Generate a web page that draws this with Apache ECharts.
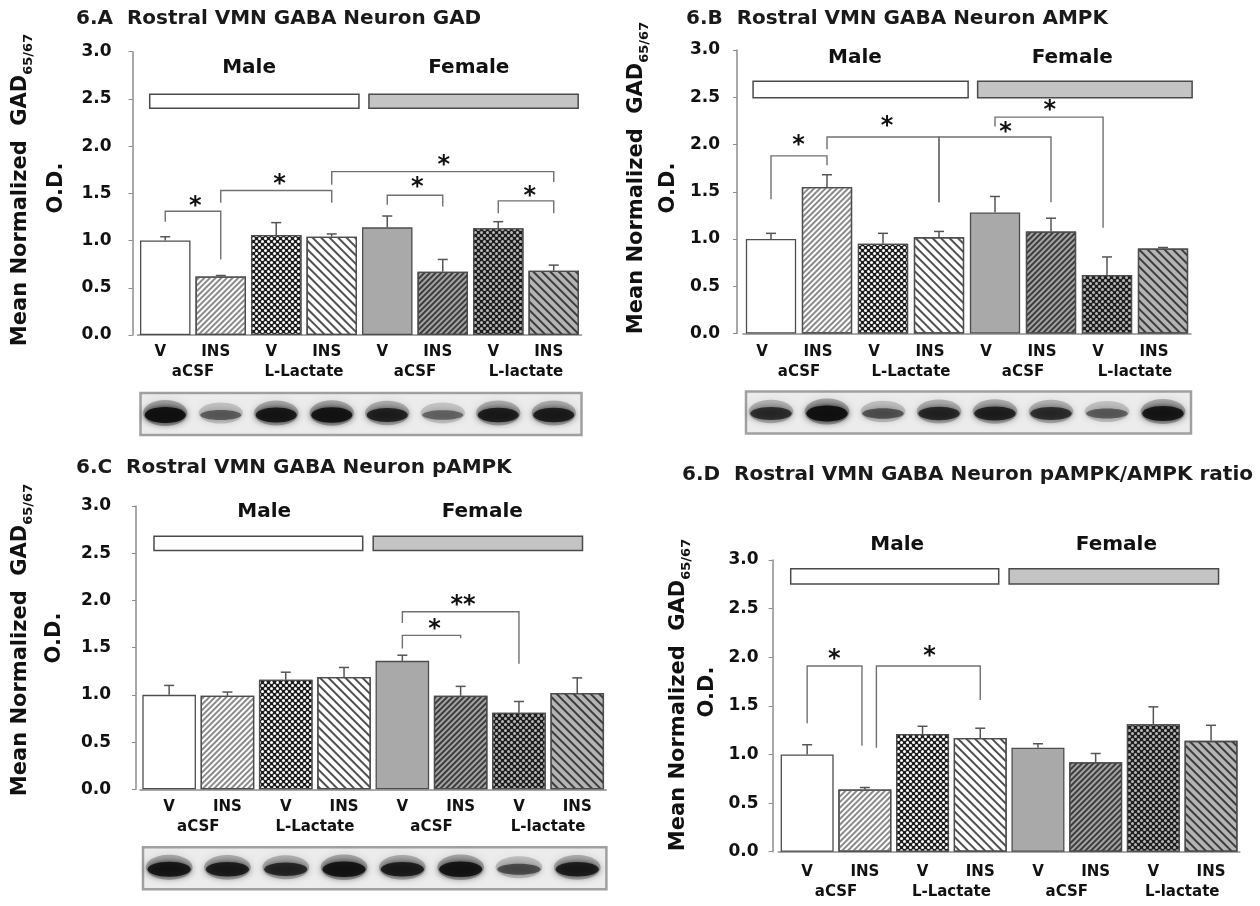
<!DOCTYPE html>
<html>
<head>
<meta charset="utf-8">
<script src="https://cdn.jsdelivr.net/npm/echarts@6/dist/echarts.min.js"></script>
<style>
html, body { margin: 0; padding: 0; background: #fff; }
#main { width: 1260px; height: 906px; }
</style>
</head>
<body>
<div id="main"></div>
<script>
const F = 'DejaVu Sans';

const treatments = ['V', 'INS', 'V', 'INS', 'V', 'INS', 'V', 'INS'];
const infusions = ['aCSF', 'L-Lactate', 'aCSF', 'L-lactate'];
const sexes = ['Male', 'Female'];

// 6.A GAD65/67
const gadMean = [1.00, 0.62, 1.06, 1.04, 1.14, 0.67, 1.13, 0.68];
const gadErr  = [0.04, 0.01, 0.13, 0.03, 0.12, 0.13, 0.07, 0.06];
// 6.B AMPK
const ampkMean = [1.00, 1.55, 0.95, 1.02, 1.28, 1.08, 0.62, 0.90];
const ampkErr  = [0.06, 0.13, 0.11, 0.06, 0.17, 0.14, 0.19, 0.01];
// 6.C pAMPK
const pampkMean = [1.00, 0.99, 1.16, 1.19, 1.36, 0.99, 0.81, 1.02];
const pampkErr  = [0.10, 0.04, 0.08, 0.10, 0.06, 0.10, 0.12, 0.16];
// 6.D pAMPK/AMPK
const ratioMean = [1.00, 0.64, 1.21, 1.17, 1.07, 0.92, 1.31, 1.14];
const ratioErr  = [0.10, 0.02, 0.08, 0.10, 0.04, 0.09, 0.18, 0.16];

// brackets: [fromBar, fromLegEnd, toBar, toLegEnd, top, starBar, starY]
const gadSig = [
  [0, 1.20, 1, 0.80, 1.31, 0.54, 1.41],
  [1, 1.40, 3, 1.40, 1.53, 2.06, 1.64],
  [3, 1.59, 7, 1.62, 1.73, 5.02, 1.84],
  [4, 1.38, 5, 1.36, 1.48, 4.54, 1.61],
  [6, 1.29, 7, 1.29, 1.42, 6.57, 1.52]
];
const gadStars = ['*', '*', '*', '*', '*'];
const ampkSig = [
  [0, 1.42, 1, 1.78, 1.88, 0.49, 2.04],
  [1, 1.95, 3, 1.39, 2.08, 2.07, 2.24],
  [3, 1.39, 5, 1.39, 2.08, 4.19, 2.18],
  [4, 2.19, 5.93, 1.12, 2.29, 4.98, 2.41]
];
const ampkStars = ['*', '*', '*', '*'];
const pampkSig = [
  [4, 1.49, 5, 1.60, 1.63, 4.55, 1.74],
  [4, 1.76, 6, 1.33, 1.88, 5.04, 2.00]
];
const pampkStars = ['*', '**'];
const ratioSig = [
  [0, 1.32, 0.95, 1.09, 1.91, 0.47, 2.03],
  [1.2, 1.07, 3, 1.56, 1.91, 2.12, 2.06]
];
const ratioStars = ['*', '*'];

// western blot band strength per lane
const gadBlot   = [1.00, 0.40, 0.90, 0.95, 0.80, 0.35, 0.85, 0.85];
const ampkBlot  = [0.70, 1.00, 0.45, 0.75, 0.80, 0.70, 0.40, 0.90];
const pampkBlot = [0.90, 0.85, 0.75, 0.95, 0.85, 0.95, 0.50, 0.85];

const sexFill = ['#ffffff', '#c4c4c4'];

const hatch = (color, gap, w, rot) => ({
  symbol: 'rect', symbolSize: 1, dashArrayX: [1, 0], dashArrayY: [w, gap], rotation: rot, color: color
});
const checker = color => ({
  symbol: 'circle', symbolSize: 1, dashArrayX: [[2.2, 2.2], [0, 2.2, 2.2, 0]], dashArrayY: [2.2, 0], rotation: 0, color: color
});
const barStyles = [
  { color: '#ffffff' },
  { color: '#ffffff', decal: hatch('#8a8a8a', 1.6, 1.1, -Math.PI / 4) },
  { color: '#1e1e1e', decal: checker('#ffffff') },
  { color: '#ffffff', decal: hatch('#505050', 3.8, 1.3, Math.PI / 4) },
  { color: '#a9a9a9' },
  { color: '#a4a4a4', decal: hatch('#3c3c3c', 1.7, 1.2, -Math.PI / 4) },
  { color: '#1e1e1e', decal: checker('#b8b8b8') },
  { color: '#b4b4b4', decal: hatch('#3c3c3c', 3.6, 1.4, Math.PI / 4) }
];

const panels = [
  { title: '6.A  Rostral VMN GABA Neuron GAD', mean: gadMean, err: gadErr, sig: gadSig, stars: gadStars, blot: gadBlot,
    grid: { left: 137.5, top: 51.7, width: 444, height: 283.3 }, axisOff: 5, labelMargin: 21, barW: 50.5,
    titlePos: [76, 19], ylab: [21, 190], od: [56.6, 188], xm: [10, 30], xpad: 10,
    box: { span: [[-0.28, 3.49], [3.67, 7.44]], lo: 2.40, hi: 2.55, lab: [1.51, 5.47], labY: 2.83 } },
  { title: '6.B  Rostral VMN GABA Neuron AMPK', mean: ampkMean, err: ampkErr, sig: ampkSig, stars: ampkStars, blot: ampkBlot,
    grid: { left: 743, top: 50, width: 448, height: 283.5 }, axisOff: 6, labelMargin: 17, barW: 50.3,
    titlePos: [686, 19], ylab: [637, 178], od: [669, 188], xm: [11.5, 31.5], xpad: 18,
    box: { span: [[-0.32, 3.52], [3.69, 7.52]], lo: 2.495, hi: 2.67, lab: [1.5, 5.38], labY: 2.92 } },
  { title: '6.C  Rostral VMN GABA Neuron pAMPK', mean: pampkMean, err: pampkErr, sig: pampkSig, stars: pampkStars, blot: pampkBlot,
    grid: { left: 140, top: 506, width: 466.4, height: 283.3 }, axisOff: 4, labelMargin: 25, barW: 53.6,
    titlePos: [76, 468], ylab: [21, 640], od: [55, 638], xm: [10.7, 30.7], xpad: 0,
    box: { span: [[-0.26, 3.32], [3.5, 7.09]], lo: 2.53, hi: 2.68, lab: [1.63, 5.37], labY: 2.94 } },
  { title: '6.D  Rostral VMN GABA Neuron pAMPK/AMPK ratio', mean: ratioMean, err: ratioErr, sig: ratioSig, stars: ratioStars, blot: null,
    grid: { left: 778.3, top: 560, width: 461.6, height: 291.7 }, axisOff: 5.7, labelMargin: 14, barW: 53,
    titlePos: [682, 475], ylab: [679, 695], od: [708, 692], xm: [13.3, 33.3], xpad: 0,
    box: { span: [[-0.285, 3.32], [3.5, 7.13]], lo: 2.754, hi: 2.91, lab: [1.56, 5.36], labY: 3.155 } }
];

const boldText = (size, extra) => Object.assign({ fontSize: size, fontWeight: 'bold', fontFamily: F, color: '#111' }, extra || {});

function errRender(params, api) {
  const x = api.value(0);
  const lo = api.coord([x, api.value(1)]);
  const hi = api.coord([x, api.value(2)]);
  const st = { stroke: '#555', lineWidth: 1.5 };
  return { type: 'group', children: [
    { type: 'line', shape: { x1: lo[0], y1: lo[1], x2: hi[0], y2: hi[1] }, style: st },
    { type: 'line', shape: { x1: hi[0] - 5, y1: hi[1], x2: hi[0] + 5, y2: hi[1] }, style: st }
  ] };
}

function sigRender(sig, stars) {
  return function (params, api) {
    const s = sig[params.dataIndex];
    const bw = api.size([1, 0])[0];
    const base = api.coord([0, 0]);
    const X = i => base[0] + i * bw;
    const Y = v => api.coord([0, v])[1];
    return { type: 'group', children: [
      { type: 'polyline',
        shape: { points: [[X(s[0]), Y(s[1])], [X(s[0]), Y(s[4])], [X(s[2]), Y(s[4])], [X(s[2]), Y(s[3])]] },
        style: { stroke: '#707070', lineWidth: 1.4, fill: null } },
      { type: 'text', x: X(s[5]), y: Y(s[6]) + 5,
        style: { text: stars[params.dataIndex], fontSize: 24, fontWeight: 'bold', fontFamily: F, fill: '#111', align: 'center', verticalAlign: 'middle' } }
    ] };
  };
}

function boxRender(p) {
  return function (params, api) {
    const k = params.dataIndex;
    const bw = api.size([1, 0])[0];
    const base = api.coord([0, 0])[0];
    const span = p.box.span[k];
    const y1 = api.coord([0, p.box.hi])[1];
    const y2 = api.coord([0, p.box.lo])[1];
    const xl = base + span[0] * bw;
    const xr = base + span[1] * bw;
    return { type: 'group', children: [
      { type: 'rect', shape: { x: xl, y: y1, width: xr - xl, height: y2 - y1 },
        style: { fill: sexFill[k], stroke: '#4a4a4a', lineWidth: 1.5 } },
      { type: 'text', x: base + p.box.lab[k] * bw, y: api.coord([0, p.box.labY])[1],
        style: { text: sexes[k], fontSize: 20, fontWeight: 'bold', fontFamily: F, fill: '#111', align: 'center', verticalAlign: 'middle' } }
    ] };
  };
}

function blotRender(params, api) {
  const cs = params.coordSys;
  const c = api.coord([api.value(0), 0]);
  const bw = api.size([1, 0])[0];
  const v = api.value(1);
  const top = c[1] + 58, bot = c[1] + 100;
  const cy = (top + bot) / 2 + 1;
  const children = [];
  if (params.dataIndex === 0) {
    children.push({ type: 'rect', shape: { x: cs.x + 3, y: top, width: cs.width - 3, height: bot - top },
      style: { fill: '#ececec', stroke: '#a0a0a0', lineWidth: 2.5 } });
  }
  const halo = 'rgba(60,60,60,' + (0.12 + 0.25 * v).toFixed(2) + ')';
  const core = 'rgba(15,15,15,' + (0.2 + 0.75 * v).toFixed(2) + ')';
  children.push({ type: 'ellipse', shape: { cx: c[0], cy: cy - 2, rx: bw * 0.4, ry: 9 + 4 * v },
    style: { fill: halo, shadowBlur: 10, shadowColor: halo } });
  children.push({ type: 'ellipse', shape: { cx: c[0], cy: cy, rx: bw * 0.37, ry: 3 + 5 * v },
    style: { fill: core, shadowBlur: 6, shadowColor: core } });
  return { type: 'group', children: children };
}

const grids = [], xAxes = [], yAxes = [], series = [], graphics = [];
panels.forEach((p, k) => {
  grids.push(Object.assign({ containLabel: false }, p.grid));
  xAxes.push({ gridIndex: k, type: 'category', data: treatments,
    axisLine: { lineStyle: { color: '#8c8c8c', width: 1.5 } }, axisTick: { show: false },
    axisLabel: boldText(15, { margin: p.xm[0], interval: 0, padding: [0, p.xpad, 0, 0] }) });
  xAxes.push({ gridIndex: k, type: 'category', data: infusions, position: 'bottom',
    axisLine: { show: false }, axisTick: { show: false },
    axisLabel: boldText(15, { margin: p.xm[1], interval: 0 }) });
  yAxes.push({ gridIndex: k, type: 'value', min: 0, max: 3, interval: 0.5, offset: p.axisOff,
    axisLine: { show: true, lineStyle: { color: '#8c8c8c', width: 1.5 } },
    axisTick: { show: true, length: 4, lineStyle: { color: '#8c8c8c' } },
    splitLine: { show: false },
    axisLabel: boldText(17, { margin: p.labelMargin, formatter: v => v.toFixed(1) }) });

  series.push({ type: 'bar', xAxisIndex: 2 * k, yAxisIndex: k, barWidth: p.barW, z: 2,
    itemStyle: { borderColor: '#4d4d4d', borderWidth: 1.3 },
    data: p.mean.map((v, i) => ({ value: v, itemStyle: barStyles[i] })) });
  series.push({ type: 'custom', xAxisIndex: 2 * k, yAxisIndex: k, z: 3, clip: false,
    renderItem: errRender, data: p.mean.map((v, i) => [i, v, v + p.err[i]]) });
  series.push({ type: 'custom', xAxisIndex: 2 * k, yAxisIndex: k, z: 3, clip: false,
    renderItem: sigRender(p.sig, p.stars), data: p.sig.map(s => [s[0], s[4]]) });
  series.push({ type: 'custom', xAxisIndex: 2 * k, yAxisIndex: k, z: 3, clip: false,
    renderItem: boxRender(p), data: [[0, p.box.hi], [4, p.box.hi]] });
  if (p.blot) {
    series.push({ type: 'custom', xAxisIndex: 2 * k, yAxisIndex: k, z: 3, clip: false,
      renderItem: blotRender, data: p.blot.map((v, i) => [i, v]) });
  }

  graphics.push({ type: 'text', x: p.titlePos[0], y: p.titlePos[1],
    style: { text: p.title, fontSize: 20, fontWeight: 'bold', fontFamily: F, fill: '#1a1a1a', align: 'left', verticalAlign: 'middle' } });
  graphics.push({ type: 'text', x: p.ylab[0], y: p.ylab[1], rotation: Math.PI / 2,
    style: { text: '{m|Mean Normalized  GAD}{s|65/67}', align: 'center', verticalAlign: 'middle',
      rich: { m: { fontSize: 21, fontWeight: 'bold', fontFamily: F, fill: '#111', lineHeight: 28 },
              s: { fontSize: 13, fontWeight: 'bold', fontFamily: F, fill: '#111', lineHeight: 28, verticalAlign: 'bottom' } } } });
  graphics.push({ type: 'text', x: p.od[0], y: p.od[1], rotation: Math.PI / 2,
    style: { text: 'O.D.', fontSize: 21, fontWeight: 'bold', fontFamily: F, fill: '#111', align: 'center', verticalAlign: 'middle' } });
});

const chart = echarts.init(document.getElementById('main'));
chart.setOption({
  backgroundColor: '#ffffff',
  animation: false,
  grid: grids,
  xAxis: xAxes,
  yAxis: yAxes,
  series: series,
  graphic: graphics
});
</script>
</body>
</html>
